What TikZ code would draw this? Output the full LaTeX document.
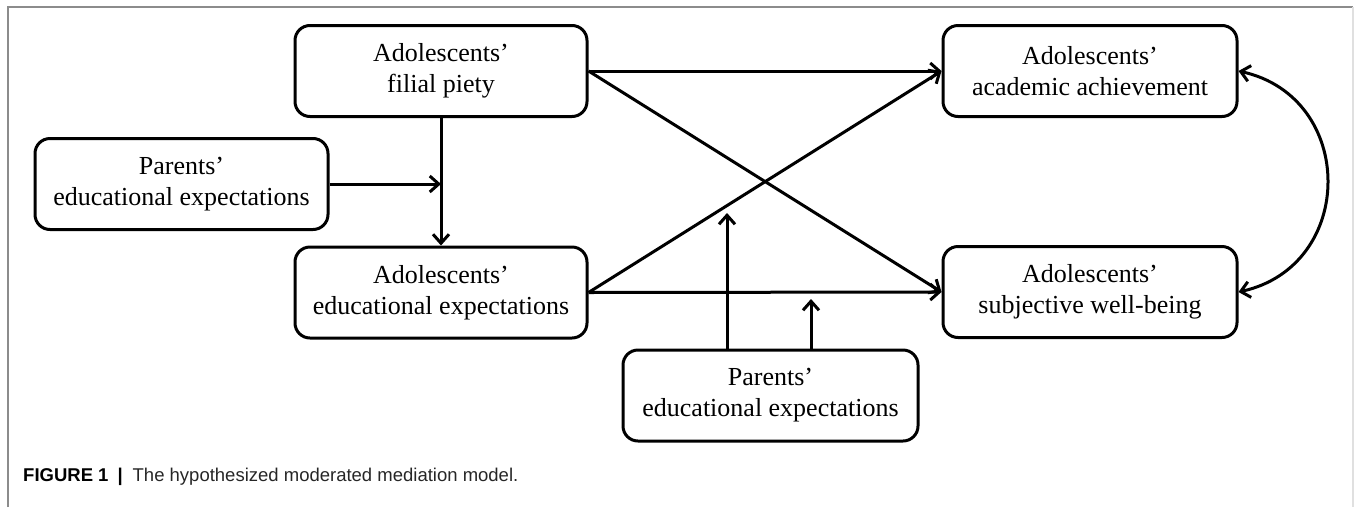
\documentclass[tikz,border=0pt]{standalone}
\usepackage{fontspec}
\setmainfont{Liberation Serif}
\setsansfont{Liberation Sans}
\usetikzlibrary{arrows.meta}
\begin{document}
\begin{tikzpicture}[x=1pt,y=1pt,
  box/.style={draw, line width=3pt, rounded corners=15pt, inner sep=0pt,
    minimum width=292pt, minimum height=91pt, align=center,
    font=\fontsize{26}{31}\selectfont},
  tipb/.tip={Straight Barb[length=9pt,width=16pt,line width=3pt]},
  arr/.style={line width=3pt, -tipb},
  darr/.style={line width=3pt, tipb-tipb},
  framel/.style={line width=1.2pt}
]
\useasboundingbox (0,0) rectangle (1354,-507);
% frame
\draw[framel, draw=black!45] (8,-507) -- (8,-7) -- (1353,-7);
\draw[framel, draw=black!12] (1353,-7) -- (1353,-507);

% nodes
\node[box] (fp) at (441,-71) {Adolescents’\\filial piety};
\node[box, minimum width=293pt] (pl) at (181.5,-184) {Parents’\\educational expectations};
\node[box] (ae) at (441,-292.5) {Adolescents’\\educational expectations};
\node[box, minimum width=294pt] (aa) at (1090,-71) {Adolescents’\\academic achievement};
\node[box, minimum width=294pt] (sw) at (1090,-292) {Adolescents’\\subjective well-being};
\node[box, minimum width=295pt] (pb) at (770.5,-395.5) {Parents’\\educational expectations};

% moderation target points
\coordinate (m1) at (fp.south |- pl.east);
\coordinate (m2) at (727,-213);
\coordinate (m3) at (811,-299);

% connectors
\draw[arr] (fp.south) -- (ae.north);
\draw[arr] (pl.east) -- (m1);
\draw[arr] (fp.east) -- (aa.west);
\draw[arr] (fp.east) -- (sw.west);
\draw[arr] (ae.east) -- (aa.west);
\draw[arr] (ae.east) -- (sw.west);
\draw[arr] (pb.north -| m2) -- (m2);
\draw[arr] (pb.north -| m3) -- (m3);
\draw[darr] (aa.east) .. controls +(-12.5:121) and +(12.5:121) .. (sw.east);

% caption
\node[anchor=base west, inner sep=0pt, font=\sffamily\fontsize{18.5}{22}\selectfont] (cap) at (23,-481)
  {\textbf{FIGURE 1}\hspace{9pt}\textbf{|}\hspace{10pt}{\color{black!85}The hypothesized moderated mediation model.}};
\end{tikzpicture}
\end{document}
